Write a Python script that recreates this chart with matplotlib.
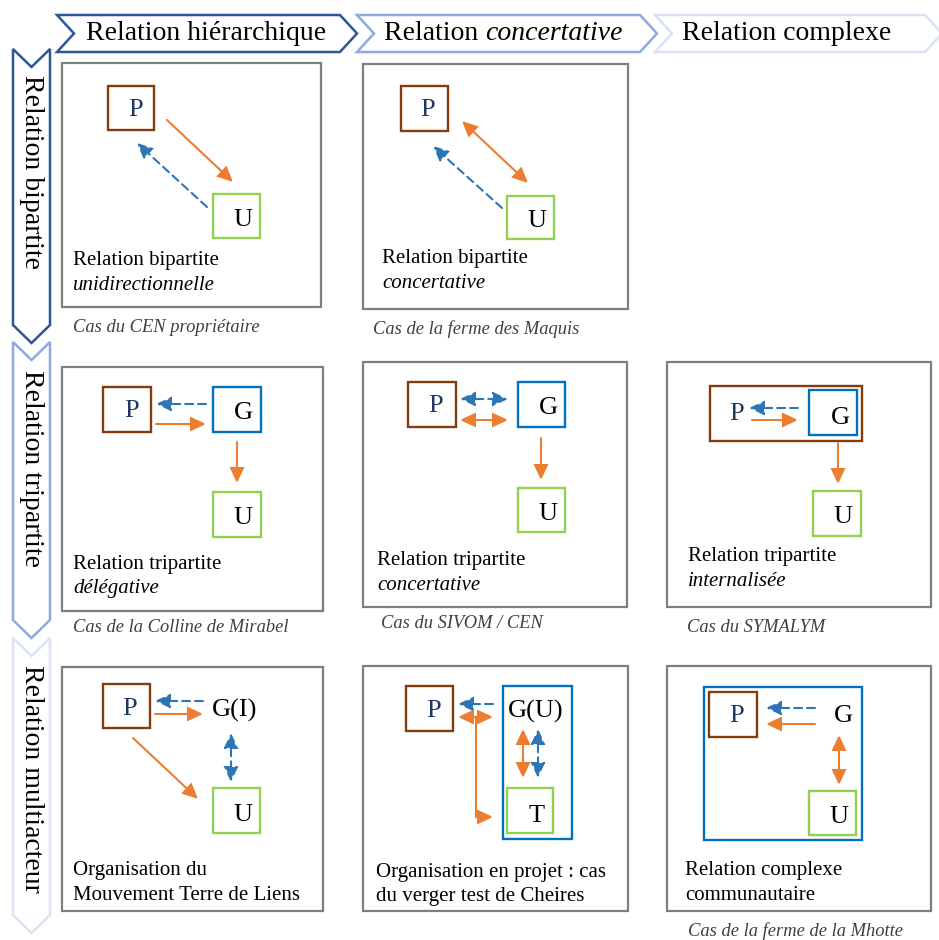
import matplotlib
matplotlib.use('Agg')
import matplotlib.pyplot as plt
from matplotlib.patches import Rectangle, Polygon, FancyArrowPatch

# texts of the typology
col_roman = ['Relation hiérarchique', 'Relation ', 'Relation complexe']
col_italic = ['', 'concertative', '']
row_titles = ['Relation bipartite', 'Relation tripartite', 'Relation multiacteur']
label_line1 = ['Relation bipartite', 'Relation bipartite', '',
               'Relation tripartite', 'Relation tripartite', 'Relation tripartite',
               'Organisation du', 'Organisation en projet : cas', 'Relation complexe']
label_line2 = ['unidirectionnelle', 'concertative', '',
               'délégative', 'concertative', 'internalisée',
               'Mouvement Terre de Liens', 'du verger test de Cheires', 'communautaire']
label_line2_italic = [True, True, False, True, True, True, False, False, False]
captions = ['Cas du CEN propriétaire', 'Cas de la ferme des Maquis', '',
            'Cas de la Colline de Mirabel', 'Cas du SIVOM / CEN', 'Cas du SYMALYM',
            '', '', 'Cas de la ferme de la Mhotte']

SERIF = 'Liberation Serif'
ORANGE = '#ED7D31'
BLUE = '#2E75B6'
GBLUE = '#0070C0'
GREEN = '#92D050'
BROWN = '#843C0C'
GREY = '#7F7F7F'
NAVY = '#1F3864'

fig = plt.figure(figsize=(9.39, 9.40), dpi=100)
ax = fig.add_axes([0, 0, 1, 1])
ax.set_xlim(0, 939)
ax.set_ylim(940, 0)
ax.axis('off')


def box(x0, y0, x1, y1, color, lw=1.7):
    ax.add_patch(Rectangle((x0, y0), x1 - x0, y1 - y0, fill=False, ec=color, lw=lw))


def arrow(p0, p1, color, dashed=False, both=False):
    style = '<|-|>' if both else '-|>'
    a = FancyArrowPatch(p0, p1, arrowstyle=style + ',head_length=0.9,head_width=0.42',
                        mutation_scale=10, color=color, lw=1.5,
                        linestyle=(0, (3.8, 2.4)) if dashed else '-',
                        shrinkA=0, shrinkB=0, joinstyle='miter')
    ax.add_patch(a)


def letter(x, y, s, color='black', size=19):
    ax.text(x, y, s, fontsize=size, family=SERIF, color=color, ha='center', va='center')


# header chevrons (pointing right)
head_x = [(57, 340), (357, 640), (655, 925)]
head_col = ['#2F5597', '#8FAADC', '#DAE3F3']
for (x0, x1), c in zip(head_x, head_col):
    yt, yb, ym, d = 15, 52, 33.5, 17
    ax.add_patch(Polygon([(x0, yt), (x1, yt), (x1 + d, ym), (x1, yb), (x0, yb), (x0 + d, ym)],
                         closed=True, fc='white', ec=c, lw=1.8, joinstyle='miter'))

fig.canvas.draw()
r = fig.canvas.get_renderer()
head_cx = [206, 505, 787]
for i in range(3):
    if col_italic[i]:
        t1 = ax.text(384, 34, col_roman[i], fontsize=20, family=SERIF, ha='left', va='center')
        bb = t1.get_window_extent(renderer=r)
        ax.text(bb.x1, 34, col_italic[i], fontsize=20, family=SERIF, style='italic',
                ha='left', va='center')
    else:
        ax.text(head_cx[i], 34, col_roman[i], fontsize=20, family=SERIF, ha='center', va='center')

# row chevrons (pointing down)
row_y = [(49, 325), (342, 620), (638, 915)]
row_col = ['#2F5597', '#8FAADC', '#DAE3F3']
row_cy = [172, 468, 779]
for (y0, y1), c, cy, t in zip(row_y, row_col, row_cy, row_titles):
    xl, xr, xm, d = 13, 50, 31.5, 18
    ax.add_patch(Polygon([(xl, y0), (xm, y0 + d), (xr, y0), (xr, y1), (xm, y1 + d), (xl, y1)],
                         closed=True, fc='white', ec=c, lw=1.8, joinstyle='miter'))
    ax.text(31, cy, t, fontsize=20, family=SERIF, rotation=-90, ha='center', va='center')

# panel frames
frames = [(62, 63, 321, 307), (363, 64, 628, 309), None,
          (62, 367, 323, 611), (363, 362, 627, 607), (667, 362, 931, 607),
          (62, 667, 323, 911), (363, 666, 628, 911), (667, 666, 931, 911)]
label_pos = [(73, 260), (382, 259), None,
             (73, 564), (377, 560), (688, 557),
             (73, 870), (376, 872), (685, 870)]
cap_pos = [(73, 327), (373, 329), None,
           (73, 628), (381, 624), (687, 627),
           None, None, (688, 931)]
for k in range(9):
    if frames[k] is None:
        continue
    x0, y0, x1, y1 = frames[k]
    box(x0, y0, x1, y1, GREY, lw=1.6)
    lx, ly = label_pos[k]
    ax.text(lx, ly, label_line1[k], fontsize=15, family=SERIF, ha='left', va='center')
    ax.text(lx, ly + 25, label_line2[k], fontsize=15, family=SERIF, ha='left', va='center',
            style='italic' if label_line2_italic[k] else 'normal')
    if captions[k]:
        cx, cy = cap_pos[k]
        ax.text(cx, cy, captions[k], fontsize=13.3, family=SERIF, style='italic',
                color='#404040', ha='left', va='center')

# panel 1 : bipartite unidirectionnelle
box(108, 86, 154, 130, BROWN)
letter(136, 110, 'P', NAVY)
box(213, 194, 260, 238, GREEN)
letter(243, 220, 'U')
arrow((167, 120), (233, 182), ORANGE)
arrow((207, 207), (137, 143), BLUE, dashed=True)

# panel 2 : bipartite concertative
box(401, 86, 448, 131, BROWN)
letter(428, 110, 'P', NAVY)
box(507, 196, 554, 239, GREEN)
letter(537, 221, 'U')
arrow((462, 121), (528, 183), ORANGE, both=True)
arrow((502, 208), (433, 146), BLUE, dashed=True)

# panel 4 : tripartite delegative
box(103, 387, 151, 432, BROWN)
letter(132, 411, 'P', NAVY)
box(213, 387, 261, 432, GBLUE)
letter(243, 413, 'G')
box(213, 492, 261, 537, GREEN)
letter(243, 518, 'U')
arrow((206, 404), (156, 404), BLUE, dashed=True)
arrow((156, 424), (206, 424), ORANGE)
arrow((237, 442), (237, 483), ORANGE)

# panel 5 : tripartite concertative
box(408, 382, 456, 427, BROWN)
letter(436, 406, 'P', NAVY)
box(518, 382, 565, 427, GBLUE)
letter(548, 408, 'G')
box(518, 488, 565, 532, GREEN)
letter(548, 514, 'U')
arrow((460, 399), (508, 399), BLUE, dashed=True, both=True)
arrow((460, 420), (508, 420), ORANGE, both=True)
arrow((541, 438), (541, 480), ORANGE)

# panel 6 : tripartite internalisee
box(710, 386, 862, 441, BROWN)
box(809, 390, 857, 435, GBLUE)
letter(737, 414, 'P', NAVY)
letter(840, 418, 'G')
box(813, 491, 861, 536, GREEN)
letter(843, 517, 'U')
arrow((798, 408), (749, 408), BLUE, dashed=True)
arrow((752, 420), (798, 420), ORANGE)
arrow((838, 443), (838, 484), ORANGE)

# panel 7 : Terre de Liens
box(103, 684, 150, 728, BROWN)
letter(130, 709, 'P', NAVY)
letter(235, 710, 'G(I)')
box(213, 788, 260, 833, GREEN)
letter(243, 815, 'U')
arrow((203, 701), (155, 701), BLUE, dashed=True)
arrow((155, 714), (203, 714), ORANGE)
arrow((231, 733), (231, 782), BLUE, dashed=True, both=True)
arrow((133, 738), (198, 799), ORANGE)

# panel 8 : verger test
box(406, 686, 453, 731, BROWN)
letter(434, 711, 'P', NAVY)
box(503, 686, 572, 839, GBLUE)
letter(536, 711, 'G(U)')
box(507, 788, 553, 833, GREEN)
letter(537, 816, 'T')
arrow((493, 704), (458, 704), BLUE, dashed=True)
arrow((458, 717), (493, 717), ORANGE, both=True)
ax.plot([476, 476], [717, 817], color=ORANGE, lw=1.5)
arrow((476, 817), (493, 817), ORANGE)
arrow((523, 729), (523, 778), ORANGE, both=True)
arrow((538, 729), (538, 778), BLUE, dashed=True, both=True)

# panel 9 : communautaire
box(704, 687, 862, 840, GBLUE)
box(709, 692, 757, 737, BROWN)
letter(737, 716, 'P', NAVY)
letter(843, 716, 'G')
box(809, 791, 856, 835, GREEN)
letter(839, 817, 'U')
arrow((815, 708), (766, 708), BLUE, dashed=True)
arrow((815, 724), (766, 724), ORANGE)
arrow((839, 735), (839, 785), ORANGE, both=True)

plt.savefig('out.png', dpi=100)
